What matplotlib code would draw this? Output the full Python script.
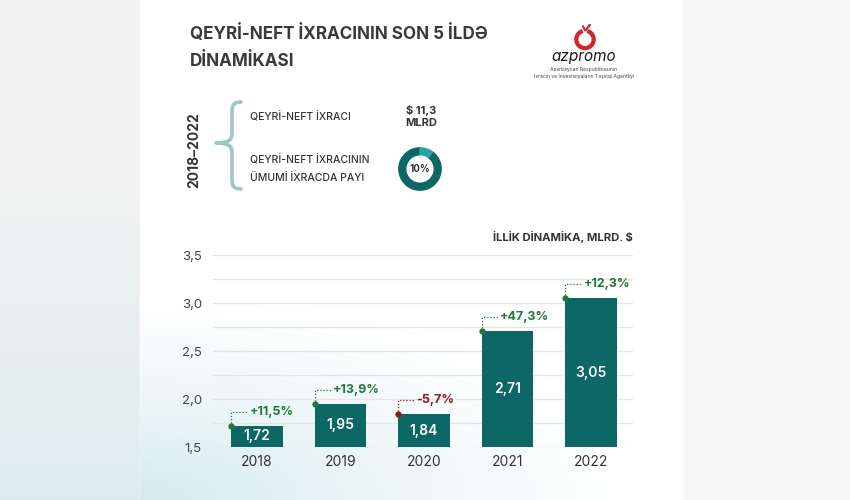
import numpy as np
import matplotlib
matplotlib.use("Agg")
import matplotlib.pyplot as plt
from matplotlib.path import Path
from matplotlib.patches import PathPatch, Rectangle, Wedge

plt.rcParams['font.family'] = ['Inter', 'DejaVu Sans']

# ---- data ----
years = ['2018', '2019', '2020', '2021', '2022']
values = [1.72, 1.95, 1.84, 2.71, 3.05]
change_labels = ['+11,5%', '+13,9%', '-5,7%', '+47,3%', '+12,3%']
change_values = [11.5, 13.9, -5.7, 47.3, 12.3]
ytick_values = [1.5, 2.0, 2.5, 3.0, 3.5]
ytick_labels = ['1,5', '2,0', '2,5', '3,0', '3,5']
grid_values = [1.5, 1.75, 2.0, 2.25, 2.5, 2.75, 3.0, 3.25, 3.5]
total_export = '$ 11,3'
total_unit = 'MLRD'
share_pct = 10

title_lines = ['QEYRİ-NEFT İXRACININ SON 5 İLDƏ', 'DİNAMİKASI']
period = '2018–2022'
item1 = 'QEYRİ-NEFT İXRACI'
item2 = ['QEYRİ-NEFT İXRACININ', 'ÜMUMİ İXRACDA PAYI']
chart_caption = 'İLLİK DİNAMİKA, MLRD. $'

BAR = '#0c6767'
GREEN = '#1d7a3a'
RED = '#8a1c1c'
TXT = '#333333'

W, H = 850, 500
fig = plt.figure(figsize=(8.5, 5), dpi=100)

# ---- background layer (pixel coords) ----
bg = fig.add_axes([0, 0, 1, 1], zorder=0)
bg.set_xlim(0, W); bg.set_ylim(H, 0); bg.axis('off')
bg.add_patch(Rectangle((0, 0), W, H, color='#f3f4f4', zorder=0))
yy = np.linspace(0, 1, 100)[:, None]
xx = np.linspace(0, 1, 100)[None, :]
top = np.array([0.95, 0.952, 0.952])
bot = np.array([0.87, 0.925, 0.93])
t = np.clip((yy - 0.35) / 0.65, 0, 1)[..., None] * np.ones((1, 100, 1))
strip = top * (1 - t) + bot * t
bg.imshow(strip, extent=(0, 140, H, 0), aspect='auto', zorder=1)
bg.add_patch(Rectangle((140, 0), 543, H, color='white', zorder=2))
d = np.clip(1 - np.sqrt((xx * 1.1) ** 2 + ((1 - yy) * 1.5) ** 2), 0, 1)
a = (d ** 1.2)[..., None]
panel = np.array([1, 1, 1]) * (1 - a) + np.array([0.84, 0.92, 0.93]) * a
bg.imshow(panel, extent=(140, 683, H, 200), aspect='auto', zorder=3)
bg.add_patch(Rectangle((683, 0), 167, H, color='#f6f6f6', zorder=2))

# ---- bar chart ----
ax = fig.add_axes([213 / W, 1 - 447 / H, 420 / W, 192 / H], zorder=2)
ax.patch.set_alpha(0)
x = np.arange(len(years))
bw = 0.62
ax.bar(x, np.array(values) - 1.5, bottom=1.5, width=bw, color=BAR, zorder=3)
ax.set_xlim(-0.527, 4.503)
ax.set_ylim(1.5, 3.5)
for g in grid_values:
    ax.axhline(g, color='#e4e6e6', lw=1, zorder=1)
for s in ax.spines.values():
    s.set_visible(False)
ax.set_yticks(ytick_values)
ax.set_yticklabels(ytick_labels, fontsize=9.5, color='#444444')
ax.set_xticks(x)
ax.set_xticklabels(years, fontsize=10, color=TXT)
ax.tick_params(length=0)
ax.tick_params(axis='y', pad=8)
ax.tick_params(axis='x', pad=6)

up = 14 / 96.0
right = 16 / 83.5
for xi, v, lab, cv in zip(x, values, change_labels, change_values):
    ax.text(xi, (v + 1.5) / 2, f'{v:.2f}'.replace('.', ','), ha='center', va='center',
            color='white', fontsize=10, fontweight='semibold', zorder=5)
    col = GREEN if cv >= 0 else RED
    x0 = xi - bw / 2
    ax.plot([x0, x0, x0 + right], [v, v + up, v + up], ls=(0, (1, 1.5)), lw=0.9,
            color=col, zorder=4, clip_on=False)
    ax.plot([x0], [v], 'o', ms=3.5, color=col, zorder=6, clip_on=False)
    ax.text(x0 + right + 0.03, v + up, lab, ha='left', va='center', color=col,
            fontsize=9, fontweight='bold', zorder=5, clip_on=False)

# ---- foreground texts (pixel coords) ----
fg = fig.add_axes([0, 0, 1, 1], zorder=3)
fg.set_xlim(0, W); fg.set_ylim(H, 0); fg.axis('off'); fg.patch.set_alpha(0)

fg.text(190, 34, title_lines[0], fontsize=12.3, fontweight='bold', color='#3a3a3a', va='center')
fg.text(190, 61, title_lines[1], fontsize=12.3, fontweight='bold', color='#3a3a3a', va='center')

fg.text(633, 237, chart_caption, fontsize=8.1, fontweight='bold', color=TXT, ha='right', va='center')

# brace
verts = [(241, 102), (233, 102), (232, 106), (232, 113),
         (232, 134),
         (232, 140), (228, 143), (216, 143),
         (228, 143), (232, 146), (232, 152),
         (232, 179),
         (232, 185), (233, 189), (241, 189)]
codes = [Path.MOVETO, Path.CURVE4, Path.CURVE4, Path.CURVE4,
         Path.LINETO,
         Path.CURVE4, Path.CURVE4, Path.CURVE4,
         Path.CURVE4, Path.CURVE4, Path.CURVE4,
         Path.LINETO,
         Path.CURVE4, Path.CURVE4, Path.CURVE4]
fg.add_patch(PathPatch(Path(verts, codes), fill=False, edgecolor='#9fc6c6', lw=2.6,
                       capstyle='round', joinstyle='round'))
fg.text(194, 150, period, rotation=90, fontsize=10, fontweight='bold', color=TXT,
        ha='center', va='center')

fg.text(250, 117, item1, fontsize=7.5, fontweight='medium', color=TXT, va='center')
fg.text(250, 160, item2[0], fontsize=7.5, fontweight='medium', color=TXT, va='center')
fg.text(250, 178, item2[1], fontsize=7.5, fontweight='medium', color=TXT, va='center')
fg.text(421, 110, total_export, fontsize=8, fontweight='bold', color=TXT, ha='center', va='center')
fg.text(421, 123, total_unit, fontsize=8, fontweight='bold', color=TXT, ha='center', va='center')

# donut
dax = fig.add_axes([(420 - 23) / W, 1 - (169 + 23) / H, 46 / W, 46 / H], zorder=4)
dax.set_xlim(-1, 1); dax.set_ylim(-1, 1); dax.axis('off'); dax.patch.set_alpha(0)
share_angle = 360 * share_pct / 100
dax.add_patch(Wedge((0, 0), 0.92, 90, 90 + 360 - share_angle, width=0.3, color=BAR))
dax.add_patch(Wedge((0, 0), 0.92, 90 - share_angle, 90, width=0.3, color='#24a6a8'))
dax.text(0, 0, f'{share_pct}%', ha='center', va='center', fontsize=7, fontweight='bold', color=TXT)

# logo
lax = fig.add_axes([(585 - 14) / W, 1 - (38 + 14) / H, 28 / W, 28 / H], zorder=4)
lax.set_xlim(-1, 1); lax.set_ylim(-1, 1); lax.axis('off'); lax.patch.set_alpha(0)
lax.add_patch(Wedge((0, -0.1), 0.72, 110, 70 + 360, width=0.2, color='#d7212b'))
lax.plot([0.05, 0.35], [0.55, 0.95], color='#d7212b', lw=1.6, solid_capstyle='round')
lax.plot([0.0, -0.15], [0.55, 0.85], color='#d7212b', lw=1.4, solid_capstyle='round')
fg.text(584, 56, 'azpromo', fontsize=11, fontstyle='italic', color='#1a1a1a', ha='center', va='center')
fg.text(584, 69, 'Azərbaycan Respublikasının', fontsize=3.6, color='#444444', ha='center', va='center')
fg.text(584, 76, 'İxracın və İnvestisiyaların Təşviqi Agentliyi', fontsize=3.6, color='#444444',
        ha='center', va='center')

fig.savefig('out.png', dpi=100)
